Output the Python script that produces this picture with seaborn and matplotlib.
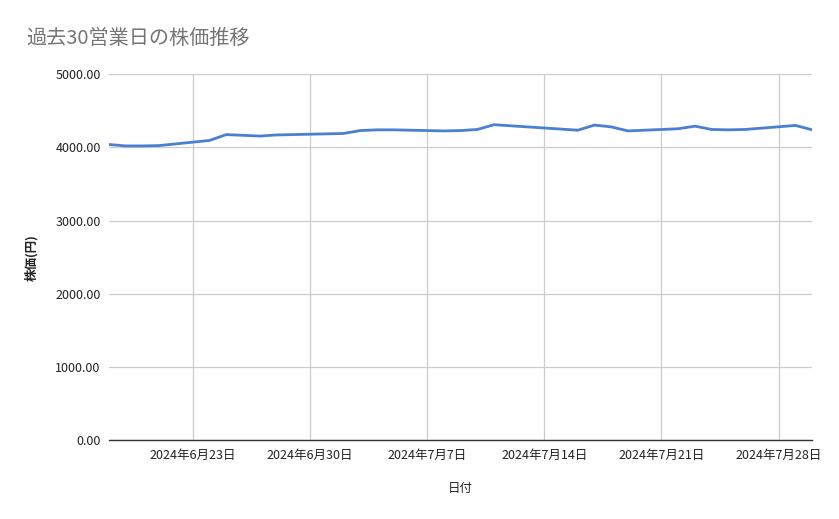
import matplotlib
matplotlib.use('Agg')
import matplotlib.pyplot as plt
from matplotlib.ticker import FuncFormatter
import pandas as pd
import seaborn as sns

# data (business days, 7/15 holiday skipped)
dates = ['2024-06-18', '2024-06-19', '2024-06-20', '2024-06-21',
         '2024-06-24', '2024-06-25', '2024-06-26', '2024-06-27', '2024-06-28',
         '2024-07-01', '2024-07-02', '2024-07-03', '2024-07-04', '2024-07-05',
         '2024-07-08', '2024-07-09', '2024-07-10', '2024-07-11', '2024-07-12',
         '2024-07-16', '2024-07-17', '2024-07-18', '2024-07-19',
         '2024-07-22', '2024-07-23', '2024-07-24', '2024-07-25', '2024-07-26',
         '2024-07-29', '2024-07-30']
prices = [4040, 4020, 4020, 4025,
          4095, 4175, 4165, 4155, 4170,
          4185, 4190, 4230, 4240, 4240,
          4225, 4230, 4245, 4310, 4295,
          4235, 4305, 4280, 4225,
          4255, 4290, 4245, 4240, 4245,
          4300, 4240]
tick_dates = ['2024-06-23', '2024-06-30', '2024-07-07',
              '2024-07-14', '2024-07-21', '2024-07-28']
y_ticks = [0, 1000, 2000, 3000, 4000, 5000]

df = pd.DataFrame({'date': pd.to_datetime(dates), 'price': prices})

sns.set_style('white')
plt.rcParams['font.family'] = ['Noto Sans CJK JP', 'DejaVu Sans']

fig = plt.figure(figsize=(8.39, 5.19), dpi=100)
ax = fig.add_axes([0.130, 0.152, 0.838, 0.705])

sns.lineplot(data=df, x='date', y='price', ax=ax, color='#4a7fd4', linewidth=2)

ax.set_xlim(pd.Timestamp('2024-06-18'), pd.Timestamp('2024-07-30'))
ax.set_ylim(0, 5000)
ax.set_yticks(y_ticks)
ax.yaxis.set_major_formatter(FuncFormatter(lambda v, p: f'{v:.2f}'))
ticks = pd.to_datetime(tick_dates)
ax.set_xticks(ticks)
ax.set_xticklabels([f'{t.year}年{t.month}月{t.day}日' for t in ticks])

ax.grid(True, color='#cccccc', linewidth=0.9)
ax.set_axisbelow(True)
for s in ['top', 'right', 'left']:
    ax.spines[s].set_visible(False)
ax.spines['bottom'].set_color('#333333')
ax.spines['bottom'].set_linewidth(1)
ax.tick_params(axis='both', length=0, labelsize=9, colors='#222222', pad=6)

ax.set_xlabel('日付', fontsize=9, color='#222222', labelpad=15)
ax.set_ylabel('株価(円)', fontsize=9, color='#222222', labelpad=12,
              fontweight='bold')

fig.text(0.031, 0.925, '過去30営業日の株価推移', fontsize=14.5, color='#757575',
         ha='left', va='center')

plt.savefig('out.png', dpi=100)
